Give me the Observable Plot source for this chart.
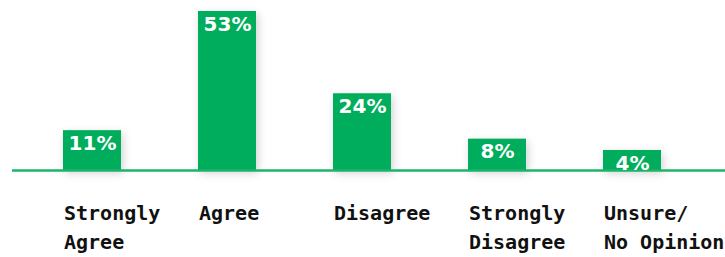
<!DOCTYPE html>
<html>
<head>
<meta charset="utf-8">
<script src="https://cdn.jsdelivr.net/npm/d3@7"></script>
<script src="https://cdn.jsdelivr.net/npm/@observablehq/plot@0.6"></script>
<style>
  html, body { margin: 0; padding: 0; background: #fff; }
  #chart svg { display: block; }
</style>
</head>
<body>
<div id="chart"></div>
<script>
const categories = ["Strongly\nAgree", "Agree", "Disagree", "Strongly\nDisagree", "Unsure/\nNo Opinion"];
const values = [11, 53, 24, 8, 4];
const valueLabels = ["11%", "53%", "24%", "8%", "4%"];

const data = categories.map((c, i) => ({category: c, value: values[i], label: valueLabels[i]}));

const green = "#00ad5c";
const yBase = -3.05;

const chart = Plot.plot({
  width: 725,
  height: 257,
  marginTop: 11,
  marginBottom: 87,
  marginLeft: 12,
  marginRight: 0,
  x: {domain: categories, paddingInner: 0.574, paddingOuter: 0.42, align: 0.44, axis: null},
  y: {domain: [yBase, 53], axis: null},
  marks: [
    Plot.barY(data, {x: "category", y1: yBase, y2: "value", fill: green}),
    Plot.ruleY([yBase], {stroke: "#1db36a", strokeWidth: 2.5}),
    Plot.text(data, {
      x: "category", y: "value", text: "label",
      fill: "white", fontSize: 20, fontWeight: "bold",
      fontFamily: "DejaVu Sans", lineAnchor: "top", dy: 5
    }),
    Plot.text(data, {
      x: "category", y: yBase, text: "category",
      fill: "#111", fontSize: 20, fontWeight: "bold",
      fontFamily: "DejaVu Sans Mono", lineAnchor: "top", textAnchor: "start",
      lineHeight: 1.45, dy: 29, dx: -28.5
    })
  ]
});

const bars = chart.querySelector('g[aria-label="bar"]');
if (bars) bars.style.filter = "drop-shadow(2px 3px 4px rgba(0,0,0,0.18))";
document.getElementById("chart").appendChild(chart);
</script>
</body>
</html>
